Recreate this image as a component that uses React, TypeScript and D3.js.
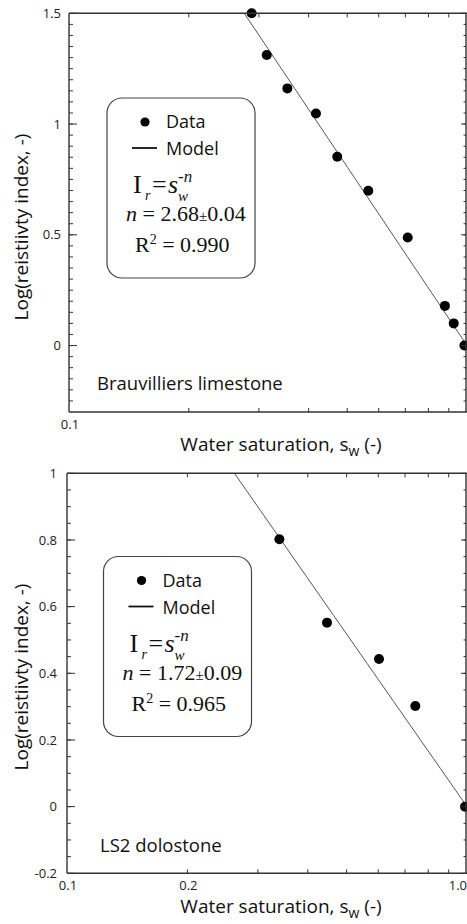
import React from "react";
import * as d3 from "d3";

const W = 467;
const H = 924;

// ---- data ----
const limestoneSw = [0.2877, 0.3139, 0.3537, 0.4174, 0.4721, 0.5649, 0.7096, 0.88, 0.926, 0.985];
const limestoneLogRI = [1.5, 1.312, 1.161, 1.048, 0.852, 0.699, 0.488, 0.179, 0.1, 0.0];
const dolostoneSw = [0.3396, 0.4467, 0.6026, 0.7427, 0.989];
const dolostoneLogRI = [0.802, 0.552, 0.443, 0.302, 0.0];

const panelNames = ["Brauvilliers limestone", "LS2 dolostone"];
const saturationExponents = [2.68, 1.72];
const exponentLabels = ["2.68", "1.72"];
const exponentErrors = ["0.04", "0.09"];
const r2Labels = ["0.990", "0.965"];

const topYTicks = [0, 0.5, 1, 1.5];
const topYTickLabels = ["0", "0.5", "1", "1.5"];
const bottomYTicks = [-0.2, 0, 0.2, 0.4, 0.6, 0.8, 1];
const bottomYTickLabels = ["-0.2", "0", "0.2", "0.4", "0.6", "0.8", "1"];
const topXTicks = [0.1];
const topXTickLabels = ["0.1"];
const bottomXTicks = [0.1, 0.2, 1];
const bottomXTickLabels = ["0.1", "0.2", "1.0"];
const minorXTicks = [0.2, 0.3, 0.4, 0.5, 0.6, 0.7, 0.8, 0.9];

const SANS = "'Open Sans', 'Noto Sans', sans-serif";
const SERIF = "'Liberation Serif', 'Times New Roman', serif";
const AXIS = "#333";

type PanelProps = {
  idx: number;
  x0: number;
  x1: number;
  yTop: number;
  yBottom: number;
  yDomain: [number, number];
  sw: number[];
  logRI: number[];
  yTicks: number[];
  yTickLabels: string[];
  minorY: number[];
  xTicks: number[];
  xTickLabels: string[];
  yLabelRight: number;
  xLabelBaseline: number;
  titleBaseline: number;
  yTitleCenter: number;
  legendDx: number;
  legendDy: number;
  nameX: number;
  nameY: number;
};

function Legend({ dx, dy, idx }: { dx: number; dy: number; idx: number }) {
  return (
    <g transform={`translate(${dx},${dy})`}>
      <rect x={107} y={98} width={148} height={180} rx={15} fill="white" stroke="#444" strokeWidth={1.2} />
      <circle cx={145} cy={122} r={4.6} fill="#000" />
      <text x={166} y={128} fontFamily={SANS} fontSize={18} fill="#111">Data</text>
      <line x1={132} x2={157} y1={148} y2={148} stroke="#111" strokeWidth={1.8} />
      <text x={166} y={155} fontFamily={SANS} fontSize={18} fill="#111">Model</text>
      <g fontFamily={SERIF} fill="#111">
        <text x={133} y={193} fontSize={26}>I</text>
        <text x={145} y={200} fontSize={14} fontStyle="italic">r</text>
        <text x={152} y={193} fontSize={26}>=</text>
        <text x={168} y={193} fontSize={26} fontStyle="italic">s</text>
        <text x={178} y={182} fontSize={17} fontStyle="italic">-n</text>
        <text x={178} y={201} fontSize={15} fontStyle="italic">w</text>
        <text x={126} y={221} fontSize={22}>
          <tspan fontStyle="italic">n</tspan>
          <tspan> = {exponentLabels[idx]}</tspan>
          <tspan fontSize={15}>±</tspan>
          <tspan>{exponentErrors[idx]}</tspan>
        </text>
        <text x={135} y={252} fontSize={22}>
          <tspan>R</tspan>
          <tspan fontSize={14} dy={-8}>2</tspan>
          <tspan dy={8}> = {r2Labels[idx]}</tspan>
        </text>
      </g>
    </g>
  );
}

function Panel(p: PanelProps) {
  const xScale = d3.scaleLog().domain([0.1, 1]).range([p.x0, p.x1]);
  const yScale = d3.scaleLinear().domain(p.yDomain).range([p.yBottom, p.yTop]);
  const right = W - 1;
  const n = saturationExponents[p.idx];
  const lineData = d3.range(0, 61).map((i) => 0.1 * Math.pow(10, i / 60));
  const line = d3
    .line<number>()
    .x((d) => xScale(d))
    .y((d) => yScale(-n * Math.log10(d)));
  const clipId = `clip${p.idx}`;
  const points = p.sw.map((s, i) => ({ s, v: p.logRI[i] }));
  return (
    <g>
      <defs>
        <clipPath id={clipId}>
          <rect x={p.x0} y={p.yTop} width={right - p.x0} height={p.yBottom - p.yTop} />
        </clipPath>
      </defs>
      {/* model line */}
      <path d={line(lineData) || ""} fill="none" stroke="#555" strokeWidth={1} clipPath={`url(#${clipId})`} />
      {/* data */}
      {points.map((d, i) => (
        <circle key={i} cx={xScale(d.s)} cy={yScale(d.v)} r={5} fill="#000" />
      ))}
      {/* frame */}
      <g stroke={AXIS} strokeWidth={1.4} fill="none">
        <line x1={p.x0} x2={p.x0} y1={p.yTop} y2={p.yBottom} />
        <line x1={p.x0} x2={right + 1} y1={p.yBottom} y2={p.yBottom} />
        <line x1={p.x0} x2={right + 1} y1={p.yTop} y2={p.yTop} />
        <line x1={right} x2={right} y1={p.yTop} y2={p.yBottom} />
      </g>
      {/* ticks */}
      <g stroke={AXIS} strokeWidth={1}>
        {p.minorY.map((v, i) => (
          <g key={"m" + i}>
            <line x1={p.x0} x2={p.x0 + 4} y1={yScale(v)} y2={yScale(v)} />
            <line x1={right} x2={right - 2.5} y1={yScale(v)} y2={yScale(v)} />
          </g>
        ))}
        {p.yTicks.map((v, i) => (
          <g key={"M" + i}>
            <line x1={p.x0} x2={p.x0 + 8} y1={yScale(v)} y2={yScale(v)} />
            <line x1={right} x2={right - 5} y1={yScale(v)} y2={yScale(v)} />
          </g>
        ))}
        {minorXTicks.map((v, i) => (
          <g key={"x" + i}>
            <line x1={xScale(v)} x2={xScale(v)} y1={p.yBottom} y2={p.yBottom - 4} />
            <line x1={xScale(v)} x2={xScale(v)} y1={p.yTop} y2={p.yTop + 4} />
          </g>
        ))}
      </g>
      {/* tick labels */}
      <g fontFamily={SANS} fontSize={13} fill="#222">
        {p.yTicks.map((v, i) => (
          <text key={i} x={p.yLabelRight} y={yScale(v)} dy="0.36em" textAnchor="end">
            {p.yTickLabels[i]}
          </text>
        ))}
        {p.xTicks.map((v, i) => {
          const atEnd = v === 1;
          return (
            <text
              key={i}
              x={atEnd ? W : xScale(v) + 1}
              y={p.xLabelBaseline}
              textAnchor={atEnd ? "end" : "middle"}
            >
              {p.xTickLabels[i]}
            </text>
          );
        })}
      </g>
      {/* axis titles */}
      <text x={281} y={p.titleBaseline} textAnchor="middle" fontFamily={SANS} fontSize={19} fill="#111">
        Water saturation, s<tspan fontSize={14} dy={5}>w</tspan>
        <tspan dy={-5}> (-)</tspan>
      </text>
      <text
        transform={`translate(28,${p.yTitleCenter}) rotate(-90)`}
        textAnchor="middle"
        fontFamily={SANS}
        fontSize={19}
        fill="#111"
      >
        Log(reistiivty index, -)
      </text>
      <Legend dx={p.legendDx} dy={p.legendDy} idx={p.idx} />
      <text x={p.nameX} y={p.nameY} fontFamily={SANS} fontSize={18.5} fill="#111">
        {panelNames[p.idx]}
      </text>
    </g>
  );
}

export default function App() {
  return (
    <div style={{ position: "absolute", left: 0, top: 0, width: W, height: H, background: "white" }}>
      <svg width={W} height={H} viewBox={`0 0 ${W} ${H}`} style={{ display: "block" }}>
        <rect width={W} height={H} fill="white" />
        <Panel
          idx={0}
          x0={69}
          x1={467}
          yTop={13.3}
          yBottom={412}
          yDomain={[-0.3, 1.5]}
          sw={limestoneSw}
          logRI={limestoneLogRI}
          yTicks={topYTicks}
          yTickLabels={topYTickLabels}
          minorY={d3.range(-0.25, 1.5, 0.05)}
          xTicks={topXTicks}
          xTickLabels={topXTickLabels}
          yLabelRight={61}
          xLabelBaseline={429}
          titleBaseline={451}
          yTitleCenter={227}
          legendDx={0}
          legendDy={0}
          nameX={97}
          nameY={390}
        />
        <Panel
          idx={1}
          x0={67}
          x1={467}
          yTop={473.3}
          yBottom={873.3}
          yDomain={[-0.2, 1]}
          sw={dolostoneSw}
          logRI={dolostoneLogRI}
          yTicks={bottomYTicks}
          yTickLabels={bottomYTickLabels}
          minorY={d3.range(-0.15, 1, 0.05)}
          xTicks={bottomXTicks}
          xTickLabels={bottomXTickLabels}
          yLabelRight={57}
          xLabelBaseline={890}
          titleBaseline={913}
          yTitleCenter={677}
          legendDx={-3.5}
          legendDy={458.5}
          nameX={100}
          nameY={852}
        />
      </svg>
    </div>
  );
}
